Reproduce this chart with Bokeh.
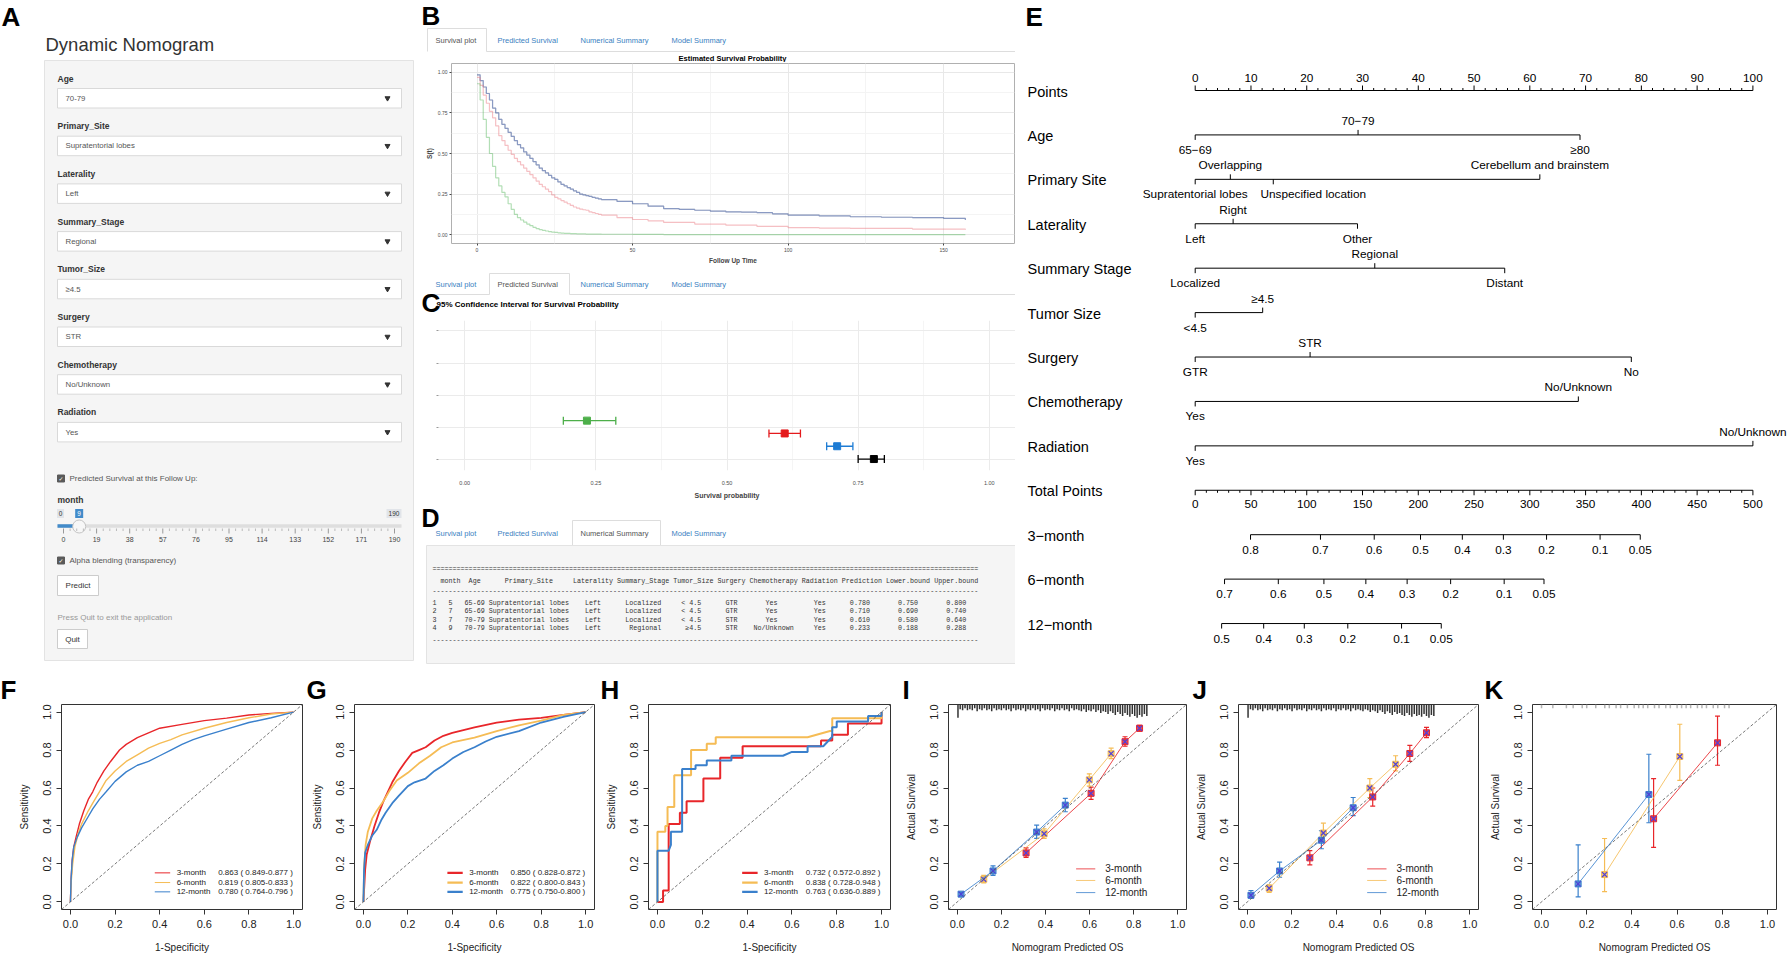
import math
from bokeh.plotting import figure
from bokeh.layouts import row, column
from bokeh.models import (Range1d, FixedTicker, PrintfTickFormatter, Slope, Whisker,
                          TeeHead, ColumnDataSource)
from bokeh.core.properties import value
from bokeh.embed import file_html
from bokeh.resources import INLINE

SANS = "Liberation Sans"
MONO = "Liberation Mono"

# ======================= DATA =======================
# --- Panel A (Shiny inputs)
ui_fields = ["Age", "Primary_Site", "Laterality", "Summary_Stage", "Tumor_Size",
             "Surgery", "Chemotherapy", "Radiation"]
ui_values = ["70-79", "Supratentorial lobes", "Left", "Regional", "≥4.5",
             "STR", "No/Unknown", "Yes"]
slider_ticks = [0, 19, 38, 57, 76, 95, 114, 133, 152, 171, 190]
slider_min, slider_max, slider_value = 0, 190, 9
tab_names = ["Survival plot", "Predicted Survival", "Numerical Summary", "Model Summary"]

# --- Panel B (estimated survival curves: month, S(t))
surv_rows12 = [(0, .985), (1, .95), (2, .91), (3, .87), (4, .83), (5, .78), (6, .75), (7, .71),
               (8, .68), (9, .655), (10, .63), (11, .605), (12, .58), (13, .555), (14, .535),
               (15, .51), (16, .49), (17, .47), (18, .45), (19, .43), (20, .41), (21, .395),
               (22, .38), (23, .365), (24, .35), (25, .34), (26, .325), (27, .31), (28, .30),
               (29, .29), (30, .28), (31, .27), (32, .26), (33, .25), (34, .245), (35, .24),
               (36, .235), (37, .23), (38, .225), (39, .22), (40, .215), (45, .205), (50, .19),
               (55, .175), (60, .16), (65, .155), (70, .15), (75, .145), (80, .14), (85, .138),
               (90, .135), (95, .128), (100, .12), (110, .115), (120, .11), (130, .107),
               (140, .105), (150, .10), (157, .09)]
surv_row3 = [(0, .97), (1, .92), (2, .86), (3, .81), (4, .76), (5, .72), (6, .67), (7, .61),
             (8, .58), (9, .55), (10, .52), (11, .495), (12, .47), (13, .45), (14, .43),
             (15, .41), (16, .39), (17, .37), (18, .35), (19, .33), (20, .31), (21, .295),
             (22, .28), (23, .265), (24, .245), (25, .23), (26, .22), (27, .21), (28, .20),
             (29, .19), (30, .18), (31, .17), (32, .163), (33, .157), (34, .153), (35, .15),
             (36, .14), (37, .135), (38, .13), (39, .125), (40, .12), (45, .105), (50, .093),
             (55, .085), (60, .075), (70, .065), (80, .058), (90, .05), (100, .043),
             (110, .04), (120, .038), (140, .034), (157, .03)]
surv_row4 = [(0, .93), (1, .83), (2, .71), (3, .60), (4, .50), (5, .42), (6, .35), (7, .30),
             (8, .26), (9, .233), (10, .19), (11, .155), (12, .125), (13, .105), (14, .09),
             (15, .077), (16, .065), (17, .055), (18, .045), (19, .037), (20, .03), (21, .026),
             (22, .022), (23, .018), (24, .015), (25, .013), (26, .011), (27, .009), (28, .008),
             (29, .007), (30, .006), (32, .0045), (35, .003), (40, .002), (50, .001), (60, 0.0),
             (100, 0.0), (157, 0.0)]

# --- Panels C / D (numerical summary)
tbl_month = [5, 7, 7, 9]
tbl_age = ["65-69", "65-69", "70-79", "70-79"]
tbl_site = ["Supratentorial lobes", "Supratentorial lobes", "Supratentorial lobes", "Supratentorial lobes"]
tbl_lat = ["Left", "Left", "Left", "Left"]
tbl_stage = ["Localized", "Localized", "Localized", "Regional"]
tbl_size = ["< 4.5", "< 4.5", "< 4.5", "≥4.5"]
tbl_surg = ["GTR", "GTR", "STR", "STR"]
tbl_chemo = ["Yes", "Yes", "Yes", "No/Unknown"]
tbl_rad = ["Yes", "Yes", "Yes", "Yes"]
tbl_pred = [0.780, 0.710, 0.610, 0.233]
tbl_lo = [0.750, 0.690, 0.580, 0.188]
tbl_hi = [0.800, 0.740, 0.640, 0.288]
ci_pos = [0.0, 0.4, 0.8, 1.2]
row_colors = ["#000000", "#1E7CD4", "#E41A1C", "#4DAF4A"]

# --- Panel E (nomogram)
nomo_rows = ["Points", "Age", "Primary Site", "Laterality", "Summary Stage", "Tumor Size",
             "Surgery", "Chemotherapy", "Radiation", "Total Points", "3−month", "6−month", "12−month"]
points_major = [0, 10, 20, 30, 40, 50, 60, 70, 80, 90, 100]
age_levels = ["65−69", "70−79", "≥80"];                        age_pts = [0.0, 29.2, 69.0]
site_levels = ["Supratentorial lobes", "Overlapping", "Unspecified location",
               "Cerebellum and brainstem"];                     site_pts = [0.0, 6.3, 14.0, 61.8]
lat_levels = ["Left", "Right", "Other"];                        lat_pts = [0.0, 6.8, 29.1]
stage_levels = ["Localized", "Regional", "Distant"];            stage_pts = [0.0, 32.2, 55.5]
size_levels = ["<4.5", "≥4.5"];                                 size_pts = [0.0, 12.1]
surg_levels = ["GTR", "STR", "No"];                             surg_pts = [0.0, 20.6, 78.2]
chemo_levels = ["Yes", "No/Unknown"];                           chemo_pts = [0.0, 68.7]
rad_levels = ["Yes", "No/Unknown"];                             rad_pts = [0.0, 100.0]
total_major = [0, 50, 100, 150, 200, 250, 300, 350, 400, 450, 500]
surv3_labels = [0.8, 0.7, 0.6, 0.5, 0.4, 0.3, 0.2, 0.1, 0.05]
surv3_total = [49.6, 112.3, 160.5, 202.0, 239.5, 276.3, 315.0, 363.0, 399.0]
surv6_labels = [0.7, 0.6, 0.5, 0.4, 0.3, 0.2, 0.1, 0.05]
surv6_total = [26.3, 74.5, 115.4, 153.0, 190.0, 229.0, 277.0, 312.7]
surv12_labels = [0.5, 0.4, 0.3, 0.2, 0.1, 0.05]
surv12_total = [23.7, 61.4, 97.8, 136.8, 185.0, 220.6]

# --- Panels F, G, H (ROC curves: 1-specificity, sensitivity)
roc_names = ["3-month", "6-month", "12-month"]
roc_F_3m = [(0, 0), (.003, .12), (.008, .22), (.015, .29), (.025, .34), (.04, .41), (.06, .48),
            (.08, .54), (.10, .58), (.12, .63), (.15, .69), (.18, .74), (.20, .77), (.22, .80),
            (.25, .83), (.30, .865), (.35, .89), (.40, .915), (.50, .935), (.60, .955),
            (.70, .968), (.80, .985), (.90, .993), (1, 1)]
roc_F_6m = [(0, 0), (.003, .10), (.01, .20), (.02, .29), (.035, .36), (.05, .41), (.08, .48),
            (.10, .52), (.13, .58), (.16, .64), (.20, .69), (.25, .74), (.30, .775), (.35, .81),
            (.40, .835), (.45, .855), (.50, .88), (.60, .915), (.70, .945), (.80, .97),
            (.90, .99), (1, 1)]
roc_F_12m = [(0, 0), (.003, .12), (.008, .22), (.015, .29), (.03, .34), (.05, .39), (.08, .45),
             (.10, .49), (.13, .54), (.16, .58), (.20, .635), (.25, .685), (.30, .72), (.35, .74),
             (.40, .77), (.45, .80), (.50, .83), (.55, .855), (.60, .875), (.70, .91),
             (.80, .945), (.90, .97), (1, 1)]
auc_F = [0.863, 0.819, 0.780]; auc_F_lo = [0.849, 0.805, 0.764]; auc_F_hi = [0.877, 0.833, 0.796]

roc_G_3m = [(0, 0), (.004, .08), (.008, .17), (.015, .25), (.03, .32), (.05, .40), (.07, .47),
            (.09, .53), (.11, .58), (.13, .63), (.16, .69), (.19, .74), (.22, .785), (.25, .80),
            (.28, .815), (.32, .85), (.36, .875), (.40, .89), (.45, .905), (.50, .92),
            (.60, .945), (.70, .96), (.80, .97), (.90, .985), (1, 1)]
roc_G_6m = [(0, 0), (.004, .20), (.01, .30), (.02, .37), (.04, .44), (.06, .48), (.09, .53),
            (.12, .59), (.15, .64), (.20, .68), (.25, .73), (.30, .77), (.35, .815), (.40, .84),
            (.50, .865), (.60, .90), (.70, .93), (.80, .955), (.90, .985), (1, 1)]
roc_G_12m = [(0, 0), (.003, .17), (.008, .26), (.02, .30), (.04, .35), (.06, .38), (.08, .43),
             (.10, .47), (.13, .52), (.16, .56), (.20, .61), (.23, .63), (.28, .65), (.32, .69),
             (.36, .72), (.40, .755), (.45, .79), (.50, .815), (.55, .845), (.60, .87),
             (.70, .90), (.80, .945), (.90, .975), (1, 1)]
auc_G = [0.850, 0.822, 0.775]; auc_G_lo = [0.828, 0.800, 0.750]; auc_G_hi = [0.872, 0.843, 0.800]

roc_H_3m = [(0, 0), (.025, 0), (.025, .06), (.05, .06), (.05, .41), (.10, .41), (.10, .47),
            (.13, .47), (.13, .53), (.205, .53), (.205, .65), (.28, .65), (.28, .76), (.38, .76),
            (.38, .82), (.73, .82), (.73, .85), (.78, .85), (.78, .88), (.85, .88), (.85, .94),
            (1.0, .94), (1.0, 1.0)]
roc_H_6m = [(0, 0), (0, .37), (.035, .37), (.035, .40), (.045, .40), (.045, .50), (.075, .50),
            (.075, .667), (.15, .667), (.15, .80), (.22, .80), (.22, .833), (.26, .833),
            (.26, .867), (.67, .867), (.77, .90), (.78, .90), (.78, .967), (1.0, .967), (1.0, 1.0)]
roc_H_12m = [(0, 0), (0, .27), (.05, .27), (.06, .30), (.06, .37), (.11, .37), (.11, .70),
             (.17, .70), (.17, .72), (.22, .72), (.22, .745), (.33, .745), (.33, .77), (.56, .77),
             (.60, .79), (.67, .79), (.67, .82), (.74, .82), (.78, .87), (.78, .92), (.80, .92),
             (.80, .95), (.94, .95), (.94, .98), (1.0, .98), (1.0, 1.0)]
auc_H = [0.732, 0.838, 0.763]; auc_H_lo = [0.572, 0.728, 0.636]; auc_H_hi = [0.892, 0.948, 0.889]

# --- Panels I, J, K (calibration: predicted, observed, lower, upper)
cal_I_3m = [(.312, .258, .235, .285), (.607, .572, .54, .605), (.761, .844, .82, .87), (.827, .915, .90, .93)]
cal_I_6m = [(.12, .119, .10, .14), (.394, .359, .335, .385), (.599, .643, .61, .675), (.698, .781, .755, .81)]
cal_I_12m = [(.017, .041, .03, .05), (.162, .163, .14, .19), (.36, .368, .335, .405), (.49, .51, .475, .545)]
cal_J_3m = [(.281, .232, .195, .27), (.564, .553, .505, .60), (.731, .782, .74, .825), (.806, .891, .865, .92)]
cal_J_6m = [(.098, .072, .05, .09), (.342, .363, .32, .415), (.551, .60, .55, .65), (.667, .725, .69, .77)]
cal_J_12m = [(.016, .035, .02, .06), (.145, .163, .13, .21), (.333, .325, .28, .375), (.476, .496, .455, .55)]
cal_K_3m = [(.496, .438, .287, .65), (.779, .838, .72, .979)]
cal_K_6m = [(.279, .144, .054, .334), (.612, .766, .64, .936)]
cal_K_12m = [(.162, .095, .026, .30), (.475, .566, .417, .778)]

# rug of predicted values (position, tick length)
rug_I = [(.003, .07), (.013, .025), (.024, .03), (.035, .02), (.046, .03), (.057, .025), (.068, .03),
         (.079, .02), (.09, .035), (.101, .025), (.112, .03), (.123, .02), (.134, .03), (.145, .025),
         (.156, .035), (.167, .02), (.178, .03), (.189, .025), (.2, .03), (.211, .02), (.222, .03),
         (.233, .025), (.244, .035), (.255, .02), (.266, .03), (.277, .025), (.288, .03), (.299, .02),
         (.31, .035), (.321, .025), (.332, .03), (.343, .02), (.354, .03), (.365, .025), (.376, .035),
         (.387, .02), (.398, .03), (.409, .025), (.42, .03), (.431, .02), (.442, .035), (.453, .025),
         (.464, .03), (.475, .02), (.486, .03), (.497, .025), (.508, .035), (.519, .02), (.53, .03),
         (.541, .025), (.552, .03), (.563, .035), (.574, .025), (.585, .04), (.596, .03), (.607, .035),
         (.618, .025), (.629, .04), (.64, .03), (.651, .045), (.662, .035), (.673, .04), (.684, .05),
         (.695, .035), (.706, .045), (.717, .055), (.728, .04), (.739, .05), (.75, .06), (.761, .045),
         (.772, .055), (.783, .065), (.794, .05), (.805, .06), (.816, .07), (.827, .055), (.838, .065),
         (.849, .05), (.86, .06)]
rug_J = [(.003, .07), (.014, .025), (.025, .03), (.036, .02), (.047, .03), (.058, .025), (.069, .035),
         (.08, .02), (.091, .03), (.102, .025), (.113, .03), (.124, .02), (.135, .035), (.146, .025),
         (.157, .03), (.168, .02), (.179, .03), (.19, .025), (.201, .035), (.212, .02), (.223, .03),
         (.234, .025), (.245, .03), (.256, .02), (.267, .035), (.278, .025), (.289, .03), (.3, .02),
         (.311, .03), (.322, .025), (.333, .035), (.344, .02), (.355, .03), (.366, .025), (.377, .03),
         (.388, .02), (.399, .035), (.41, .025), (.421, .03), (.432, .02), (.443, .03), (.454, .025),
         (.465, .035), (.476, .02), (.487, .03), (.498, .025), (.509, .03), (.52, .035), (.531, .025),
         (.542, .03), (.553, .04), (.564, .03), (.575, .035), (.586, .045), (.597, .03), (.608, .04),
         (.619, .05), (.63, .035), (.641, .045), (.652, .055), (.663, .04), (.674, .05), (.685, .045),
         (.696, .055), (.707, .06), (.718, .045), (.729, .055), (.74, .065), (.751, .05), (.762, .06),
         (.773, .055), (.784, .065), (.795, .05), (.806, .06), (.817, .07), (.828, .055), (.839, .06)]
rug_K = [(.0, .02), (.05, .02), (.11, .02), (.14, .02), (.18, .02), (.20, .02), (.24, .02), (.28, .02),
         (.30, .02), (.33, .02), (.35, .02), (.38, .02), (.41, .02), (.43, .02), (.45, .02), (.47, .02),
         (.50, .02), (.52, .02), (.55, .02), (.57, .02), (.60, .02), (.62, .02), (.64, .02), (.66, .02),
         (.69, .02), (.71, .02), (.73, .02), (.76, .02), (.78, .02), (.81, .02), (.83, .02)]

RED, ORANGE, BLUE = "#E8262A", "#F5BC55", "#3A80CC"


# ======================= HELPERS =======================
def no_align(p):
    try:
        p.frame_align = False
    except Exception:
        pass
    return p


def canvas(x0, x1, y0, y1):
    p = figure(width=round(x1 - x0), height=round(y1 - y0), x_range=Range1d(x0, x1),
               y_range=Range1d(y1, y0), x_axis_type=None, y_axis_type=None, min_border=0,
               output_backend="svg", toolbar_location=None)
    p.outline_line_color = None
    return no_align(p)


def T(p, x, y, s, size, color="#333333", font=SANS, bold=False, align="left", baseline="middle"):
    p.text(x=[x], y=[y], text=[s], text_font=value(font), text_font_size=f"{size}px",
           text_color=color, text_font_style="bold" if bold else "normal",
           text_align=align, text_baseline=baseline)


TAB_X = [435, 497, 580, 671]


def draw_tabs(p, y_text, y_top, y_bot, active):
    left = TAB_X[active] - 8
    right = TAB_X[active + 1] - 11
    p.quad(left=[left], right=[right], top=[y_top], bottom=[y_bot], fill_color="white", line_color=None)
    p.line([left, left, right, right], [y_bot, y_top, y_top, y_bot], line_color="#dddddd", line_width=1)
    p.line([427, left], [y_bot, y_bot], line_color="#dddddd", line_width=1)
    p.line([right, 1015], [y_bot, y_bot], line_color="#dddddd", line_width=1)
    cols = ["#555555" if i == active else "#3a7fbf" for i in range(len(tab_names))]
    p.text(x=TAB_X, y=[y_text] * len(TAB_X), text=tab_names, text_font=value(SANS),
           text_font_size="7.5px", text_color=cols, text_baseline="middle")


# ======================= PANEL A =======================
A = canvas(0, 420, 0, 672)
A.quad(left=[44], right=[413], top=[60], bottom=[660], fill_color="#f5f5f5", line_color="#e3e3e3")
T(A, 1, 16, "A", 26, "black", bold=True)
T(A, 45, 43.5, "Dynamic Nomogram", 18.5, "#333333")
n = len(ui_fields)
fy = [78 + 47.7 * i for i in range(n)]
A.quad(left=[57] * n, right=[401] * n, top=[y + 10 for y in fy], bottom=[y + 29.5 for y in fy],
       fill_color="white", line_color="#d9d9d9")
A.text(x=[57] * n, y=fy, text=ui_fields, text_font=value(SANS), text_font_size="8.5px",
       text_font_style="bold", text_color="#333333", text_baseline="middle")
A.text(x=[65] * n, y=[y + 19.7 for y in fy], text=ui_values, text_font=value(SANS),
       text_font_size="7.8px", text_color="#555555", text_baseline="middle")
A.scatter(x=[387] * n, y=[y + 19.7 for y in fy], marker="inverted_triangle", size=5, color="#333333")

cb_y = [478, 560]
A.scatter(x=[60.5] * 2, y=cb_y, marker="square", size=7, fill_color="#5a5a5a", line_color="#5a5a5a")
A.text(x=[60.5] * 2, y=cb_y, text=["✓", "✓"], text_font=value("DejaVu Sans"), text_font_size="6px",
       text_color="white", text_align="center", text_baseline="middle")
A.text(x=[69] * 2, y=cb_y, text=["Predicted Survival at this Follow Up:", "Alpha blending (transparency)"],
       text_font=value(SANS), text_font_size="8px", text_color="#555555", text_baseline="middle")
T(A, 57, 499, "month", 8.5, "#333333", bold=True)


def slx(v):
    return 63 + (v - slider_min) / (slider_max - slider_min) * 331


A.line([57, 401], [525.5, 525.5], line_width=3.5, line_color="#dedede")
A.line([57, slx(slider_value)], [525.5, 525.5], line_width=3.5, line_color="#428bca")
A.rect(x=[60, slx(slider_value), 393.5], y=[513] * 3, width=[7, 8, 15], height=[9] * 3,
       fill_color=["#e1e4e9", "#428bca", "#e1e4e9"], line_color=None)
A.text(x=[60, slx(slider_value), 393.5], y=[513] * 3,
       text=[str(slider_min), str(slider_value), str(slider_max)], text_font=value(SANS),
       text_font_size="6.5px", text_color=["#333333", "white", "#333333"], text_align="center",
       text_baseline="middle")
A.scatter([slx(slider_value)], [526], size=13, fill_color="#f7f7f7", line_color="#c4c4c4")
tx = [slx(t) for t in slider_ticks]
A.segment(x0=tx, y0=[528] * len(tx), x1=tx, y1=[533] * len(tx), line_color="#999999", line_width=1)
mx = []
for a, b in zip(slider_ticks[:-1], slider_ticks[1:]):
    for k in range(1, 5):
        mx.append(slx(a + (b - a) * k / 5))
A.segment(x0=mx, y0=[528] * len(mx), x1=mx, y1=[530.5] * len(mx), line_color="#bbbbbb", line_width=1)
A.text(x=tx, y=[538.5] * len(tx), text=[str(t) for t in slider_ticks], text_font=value(SANS),
       text_font_size="7px", text_color="#444444", text_align="center", text_baseline="middle")
A.quad(left=[57, 57], right=[98, 87], top=[575, 629], bottom=[595, 648], fill_color="white",
       line_color="#cccccc")
A.text(x=[77.5, 72], y=[585, 638.5], text=["Predict", "Quit"], text_font=value(SANS),
       text_font_size="8px", text_color="#333333", text_align="center", text_baseline="middle")
T(A, 57, 616.5, "Press Quit to exit the application", 8, "#999999")

# ======================= PANEL B =======================
tabsB = canvas(420, 1015, 0, 62)
draw_tabs(tabsB, 39.5, 28, 51, 0)
T(tabsB, 421, 15.5, "B", 26, "black", bold=True)
T(tabsB, 732, 57.5, "Estimated Survival Probability", 7.5, "black", bold=True, align="center")

figB = figure(width=595, height=204, x_range=Range1d(-8.2, 172.8), y_range=Range1d(-0.055, 1.055),
              min_border_left=31, min_border_right=1, min_border_top=1, min_border_bottom=20,
              output_backend="svg", toolbar_location=None)
no_align(figB)
figB.outline_line_color = "#b0b0b0"
figB.xaxis.ticker = FixedTicker(ticks=[0, 50, 100, 150], minor_ticks=[25, 75, 125])
figB.yaxis.ticker = FixedTicker(ticks=[0, 0.25, 0.5, 0.75, 1.0], minor_ticks=[0.125, 0.375, 0.625, 0.875])
figB.yaxis.formatter = PrintfTickFormatter(format="%.2f")
figB.grid.grid_line_color = "#e8e8e8"
figB.grid.minor_grid_line_color = "#f4f4f4"
figB.axis.axis_line_color = None
figB.axis.major_tick_line_color = "#444444"
figB.axis.major_tick_out = 2
figB.axis.major_tick_in = 0
figB.axis.minor_tick_out = 0
figB.axis.minor_tick_in = 0
figB.axis.major_label_text_font = SANS
figB.axis.major_label_text_font_size = "5px"
figB.axis.major_label_text_color = "#4d4d4d"
figB.axis.major_label_standoff = 2
figB.axis.axis_label_text_font = SANS
figB.axis.axis_label_text_font_size = "6.5px"
figB.axis.axis_label_text_font_style = "bold"
figB.axis.axis_label_standoff = 2
figB.xaxis.axis_label = "Follow Up Time"
figB.yaxis.axis_label = "S(t)"
for data, col, alpha in [(surv_rows12, "#000000", 0.25), (surv_rows12, "#4A6CC8", 0.45),
                         (surv_row3, "#E9707A", 0.45), (surv_row4, "#55B55A", 0.45)]:
    figB.step([d[0] for d in data], [d[1] for d in data], mode="after", line_color=col,
              line_alpha=alpha, line_width=1.2)

# ======================= PANEL C =======================
tabsC = canvas(420, 1015, 266, 320)
draw_tabs(tabsC, 283.5, 273, 294, 1)
T(tabsC, 436, 303.5, "95% Confidence Interval for Survival Probability", 8, "black", bold=True)
T(tabsC, 421, 302, "C", 26, "black", bold=True)

figC = figure(width=595, height=181, x_range=Range1d(-0.05, 1.05), y_range=Range1d(-0.358, 4.328),
              min_border_left=18, min_border_right=0, min_border_top=0, min_border_bottom=24,
              output_backend="svg", toolbar_location=None)
no_align(figC)
figC.outline_line_color = None
figC.xaxis.ticker = FixedTicker(ticks=[0, 0.25, 0.5, 0.75, 1.0], minor_ticks=[0.125, 0.375, 0.625, 0.875])
figC.xaxis.formatter = PrintfTickFormatter(format="%.2f")
figC.yaxis.ticker = FixedTicker(ticks=[0, 1, 2, 3, 4])
figC.yaxis.major_label_text_alpha = 0
figC.yaxis.major_label_text_font_size = "4px"
figC.grid.grid_line_color = "#ebebeb"
figC.xgrid.minor_grid_line_color = "#f5f5f5"
figC.axis.axis_line_color = None
figC.xaxis.major_tick_line_color = None
figC.yaxis.major_tick_line_color = "#999999"
figC.yaxis.major_tick_out = 2
figC.yaxis.major_tick_in = 0
figC.axis.minor_tick_out = 0
figC.axis.minor_tick_in = 0
figC.xaxis.major_label_text_font = SANS
figC.xaxis.major_label_text_font_size = "5.5px"
figC.xaxis.major_label_text_color = "#4d4d4d"
figC.xaxis.major_label_standoff = 4
figC.xaxis.axis_label = "Survival probability"
figC.xaxis.axis_label_text_font = SANS
figC.xaxis.axis_label_text_font_size = "7px"
figC.xaxis.axis_label_text_font_style = "bold"
figC.xaxis.axis_label_standoff = 4
for i in range(len(tbl_pred)):
    src = ColumnDataSource(dict(base=[ci_pos[i]], lower=[tbl_lo[i]], upper=[tbl_hi[i]]))
    figC.add_layout(Whisker(base="base", lower="lower", upper="upper", source=src, dimension="width",
                            line_color=row_colors[i], line_width=1.3,
                            upper_head=TeeHead(size=8, line_color=row_colors[i], line_width=1.3),
                            lower_head=TeeHead(size=8, line_color=row_colors[i], line_width=1.3)))
figC.scatter(tbl_pred, ci_pos, marker="square", size=7, fill_color=row_colors, line_color=row_colors)

# ======================= PANEL D =======================
D = canvas(420, 1015, 501, 672)
draw_tabs(D, 533, 520, 545, 2)
D.quad(left=[426], right=[1015], top=[545], bottom=[663], fill_color="#f5f5f5", line_color="#e3e3e3")
T(D, 421, 517, "D", 25, "black", bold=True)
headers = ["month", "Age", "Primary_Site", "Laterality", "Summary_Stage", "Tumor_Size", "Surgery",
           "Chemotherapy", "Radiation", "Prediction", "Lower.bound", "Upper.bound"]
cols = [[str(m) for m in tbl_month], tbl_age, tbl_site, tbl_lat, tbl_stage, tbl_size, tbl_surg,
        tbl_chemo, tbl_rad, [f"{v:.3f}" for v in tbl_pred], [f"{v:.3f}" for v in tbl_lo],
        [f"{v:.3f}" for v in tbl_hi]]
widths = [max(len(h), *(len(c) for c in col)) for h, col in zip(headers, cols)]


def fmt_line(first, cells):
    return first + " " + " ".join(c.center(w) for c, w in zip(cells, widths))


hdr = fmt_line(" ", headers)
body = [fmt_line(str(i + 1), [col[i] for col in cols]) for i in range(len(tbl_month))]
lines = ["=" * len(hdr), hdr, "-" * len(hdr)] + body + ["-" * len(hdr)]
line_y = [568, 580, 590, 602, 610.5, 619, 627.5, 639]
D.text(x=[432] * len(lines), y=line_y, text=[s.replace(" ", "\u00a0") for s in lines],
       text_font=value(MONO), text_font_size="6.7px", text_color="#333333", text_baseline="middle")

# ======================= PANEL E (nomogram) =======================
E_W, E_H = 772, 672
PX0, PXPT = 179.7, 5.577
PY0, PXROW = 90.0, 44.42
E = figure(width=E_W, height=E_H, x_range=Range1d(-PX0 / PXPT, (E_W - PX0) / PXPT),
           y_range=Range1d((E_H - PY0) / PXROW, -PY0 / PXROW), x_axis_type=None, y_axis_type=None,
           min_border=0, output_backend="svg", toolbar_location=None)
no_align(E)
E.outline_line_color = None
TICK = 5 / PXROW
sx0, sy0, sx1, sy1 = [], [], [], []
lx, ly, lt, loff, lxo = [], [], [], [], []
label_nudge = {"Unspecified location": 40}


def seg(xa, ya, xb, yb):
    sx0.append(xa); sy0.append(ya); sx1.append(xb); sy1.append(yb)


def lab(x, r, t, off, xo=0):
    lx.append(x); ly.append(r); lt.append(t); loff.append(off); lxo.append(xo)


seg(0, 0, points_major[-1], 0)
for v in points_major:
    seg(v, 0, v, -TICK)
    lab(v, 0, str(v), -13)
for a, b in zip(points_major[:-1], points_major[1:]):
    for k in range(1, 5):
        v = a + (b - a) * k / 5
        seg(v, 0, v, -TICK / 2)
nomo_items = [(age_levels, age_pts), (site_levels, site_pts), (lat_levels, lat_pts),
              (stage_levels, stage_pts), (size_levels, size_pts), (surg_levels, surg_pts),
              (chemo_levels, chemo_pts), (rad_levels, rad_pts)]
for r, (levels, pts) in enumerate(nomo_items, start=1):
    seg(min(pts), r, max(pts), r)
    order = sorted(range(len(pts)), key=lambda k: pts[k])
    for j, k in enumerate(order):
        up = j % 2 == 1
        seg(pts[k], r, pts[k], r + (-TICK if up else TICK))
        lab(pts[k], r, levels[k], -14 if up else 15, label_nudge.get(levels[k], 0))
TOT2PT = points_major[-1] / total_major[-1]
r = 9
seg(0, r, total_major[-1] * TOT2PT, r)
for v in total_major:
    seg(v * TOT2PT, r, v * TOT2PT, r + TICK)
    lab(v * TOT2PT, r, str(v), 14)
for a, b in zip(total_major[:-1], total_major[1:]):
    for k in range(1, 5):
        v = (a + (b - a) * k / 5) * TOT2PT
        seg(v, r, v, r + TICK / 2)
for r, (labs, tots) in zip([10, 11, 12], [(surv3_labels, surv3_total), (surv6_labels, surv6_total),
                                           (surv12_labels, surv12_total)]):
    seg(min(tots) * TOT2PT, r, max(tots) * TOT2PT, r)
    for l, t in zip(labs, tots):
        seg(t * TOT2PT, r, t * TOT2PT, r + TICK)
        lab(t * TOT2PT, r, str(l), 15)
E.segment(x0=sx0, y0=sy0, x1=sx1, y1=sy1, line_color="black", line_width=1)
E.text(x=lx, y=ly, text=lt, y_offset=loff, x_offset=lxo, text_font=value(SANS),
       text_font_size="11.8px", text_color="black", text_align="center", text_baseline="middle")
E.text(x=[(12 - PX0) / PXPT] * len(nomo_rows), y=list(range(len(nomo_rows))), text=nomo_rows,
       y_offset=1, text_font=value(SANS), text_font_size="14.5px", text_color="black",
       text_baseline="middle")
E.text(x=[(10 - PX0) / PXPT], y=[(16 - PY0) / PXROW], text=["E"], text_font=value(SANS),
       text_font_size="26px", text_font_style="bold", text_color="black", text_baseline="middle")

# ======================= BOTTOM ROW =======================
BOT_H, BOT_TOP, BOT_BOTTOM = 297, 32, 60


def rplot(width, left, right, letter, xlabel, ylabel):
    p = figure(width=width, height=BOT_H, x_range=Range1d(-0.04, 1.04), y_range=Range1d(-0.04, 1.04),
               min_border_left=left, min_border_right=right, min_border_top=BOT_TOP,
               min_border_bottom=BOT_BOTTOM, output_backend="svg", toolbar_location=None)
    no_align(p)
    p.grid.visible = False
    p.outline_line_color = "#333333"
    p.outline_line_width = 1
    for ax in (p.xaxis[0], p.yaxis[0]):
        ax.ticker = FixedTicker(ticks=[0, 0.2, 0.4, 0.6, 0.8, 1.0])
        ax.formatter = PrintfTickFormatter(format="%.1f")
        ax.axis_line_color = None
        ax.major_tick_line_color = "#333333"
        ax.major_tick_out = 5
        ax.major_tick_in = 0
        ax.minor_tick_out = 0
        ax.minor_tick_in = 0
        ax.major_label_text_font = SANS
        ax.major_label_text_font_size = "11px"
        ax.major_label_text_color = "#222222"
        ax.major_label_standoff = 5
        ax.axis_label_text_font = SANS
        ax.axis_label_text_font_size = "10px"
        ax.axis_label_text_font_style = "normal"
        ax.axis_label_text_color = "#222222"
        ax.axis_label_standoff = 11
    p.yaxis.major_label_orientation = "vertical"
    p.xaxis.axis_label = xlabel
    p.yaxis.axis_label = ylabel
    p.title.text = letter
    p.title.align = "left"
    p.title.offset = -left
    p.title.standoff = 0
    p.title.text_font = SANS
    p.title.text_font_size = "26px"
    p.title.text_font_style = "bold"
    p.title.text_color = "black"
    p.add_layout(Slope(gradient=1, y_intercept=0, line_color="#555555", line_dash="3 2",
                       line_width=0.8))
    return p


def roc(p, curves, auc, lo, hi, lw, leg_lw):
    cols = [RED, ORANGE, BLUE]
    for data, c in zip(curves, cols):
        p.line([d[0] for d in data], [d[1] for d in data], line_color=c, line_width=lw)
    ys = [0.153, 0.102, 0.053]
    p.segment(x0=[0.378] * 3, y0=ys, x1=[0.447] * 3, y1=ys, line_color=cols, line_width=leg_lw)
    p.text(x=[0.476] * 3, y=ys, text=roc_names, text_font=value(SANS), text_font_size="8px",
           text_color="#222222", text_baseline="middle")
    p.text(x=[0.662] * 3, y=ys, text=[f"{a:.3f} ( {l:.3f}-{h:.3f} )" for a, l, h in zip(auc, lo, hi)],
           text_font=value(SANS), text_font_size="8px", text_color="#222222", text_baseline="middle")


def calib(p, series, rug, rug_color, legend):
    cols = [RED, ORANGE, BLUE]
    rx = [r_[0] for r_ in rug]
    p.segment(x0=rx, y0=[1.04] * len(rx), x1=rx, y1=[1.04 - r_[1] for r_ in rug],
              line_color=rug_color, line_width=1.5)
    for data, c in zip(series, cols):
        xs = [d[0] for d in data]; ys = [d[1] for d in data]
        p.line(xs, ys, line_color=c, line_width=1, line_alpha=0.85)
        src = ColumnDataSource(dict(base=xs, lower=[d[2] for d in data], upper=[d[3] for d in data]))
        p.add_layout(Whisker(base="base", lower="lower", upper="upper", source=src, dimension="height",
                             line_color=c, line_width=1.2,
                             upper_head=TeeHead(size=5, line_color=c, line_width=1.2),
                             lower_head=TeeHead(size=5, line_color=c, line_width=1.2)))
        p.scatter(xs, ys, marker="square", size=6, fill_color=c, line_color=c, fill_alpha=0.8)
        p.scatter(xs, ys, marker="x", size=7, line_color="#5040D8", line_width=1.2)
    if legend:
        ys = [0.174, 0.113, 0.049]
        p.segment(x0=[0.539] * 3, y0=ys, x1=[0.626] * 3, y1=ys, line_color=cols, line_width=1,
                  line_alpha=0.8)
        p.text(x=[0.671] * 3, y=ys, text=roc_names, text_font=value(SANS), text_font_size="10px",
               text_color="#222222", text_baseline="middle")


F = rplot(306, 61, 4, "F", "1-Specificity", "Sensitivity")
roc(F, [roc_F_3m, roc_F_6m, roc_F_12m], auc_F, auc_F_lo, auc_F_hi, 1.4, 1)
G = rplot(294, 48, 6, "G", "1-Specificity", "Sensitivity")
roc(G, [roc_G_3m, roc_G_6m, roc_G_12m], auc_G, auc_G_lo, auc_G_hi, 1.8, 2.2)
H = rplot(302, 48, 12, "H", "1-Specificity", "Sensitivity")
roc(H, [roc_H_3m, roc_H_6m, roc_H_12m], auc_H, auc_H_lo, auc_H_hi, 2.0, 2.2)
I = rplot(290, 46, 6, "I", "Nomogram Predicted OS", "Actual Survival")
calib(I, [cal_I_3m, cal_I_6m, cal_I_12m], rug_I, "#333333", True)
J = rplot(292, 46, 6, "J", "Nomogram Predicted OS", "Actual Survival")
calib(J, [cal_J_3m, cal_J_6m, cal_J_12m], rug_J, "#333333", True)
K = rplot(303, 48, 11, "K", "Nomogram Predicted OS", "Actual Survival")
calib(K, [cal_K_3m, cal_K_6m, cal_K_12m], rug_K, "#b5b5b5", False)

layout = column(
    row(A, column(tabsB, figB, tabsC, figC, D, spacing=0), E, spacing=0),
    row(F, G, H, I, J, K, spacing=0),
    spacing=0)

open("out.html", "w").write(file_html(layout, INLINE, title="Dynamic nomogram figure"))
